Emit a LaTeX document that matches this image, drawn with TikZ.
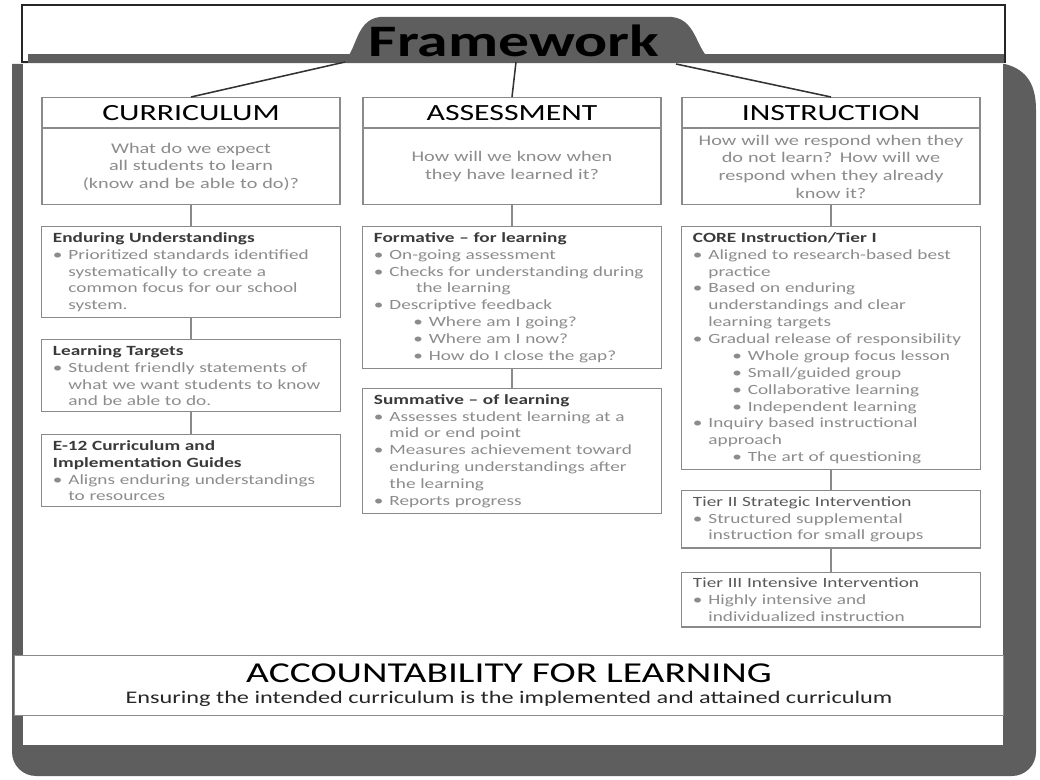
\documentclass[tikz,border=0pt]{standalone}
\usepackage{fontspec}
\setmainfont{Carlito}[FakeStretch=1.37]
\usetikzlibrary{positioning}

\definecolor{foldergray}{HTML}{5E5E5E}
\definecolor{boxline}{HTML}{8A8A8A}
\definecolor{bodytext}{HTML}{8C8C8C}
\definecolor{headtext}{HTML}{3A3A3A}

% bullets and hanging lines inside the boxes
\newcommand{\itm}{\makebox[1.1em][l]{\textbullet}}
\newcommand{\cnt}{\hspace*{1.1em}}
\newcommand{\sitm}{\hspace*{2.8em}\makebox[1.1em][l]{\textbullet}}
\newcommand{\hd}[1]{{\bfseries\color{headtext}#1}}

\begin{document}
\begin{tikzpicture}[
  x=0.025cm, y=-0.025cm,
  node distance=0.525cm,
  box/.style={draw=boxline, line width=0.8pt, fill=white, minimum width=7.45cm, inner sep=0pt},
  titlebox/.style={box, minimum height=0.75cm, font=\fontsize{16.5}{18}\selectfont, text=black},
  qbox/.style={box, minimum height=1.9cm, align=center, text width=7.2cm, font=\fontsize{10.5}{12.6}\selectfont, text=bodytext},
  itembox/.style={box, align=left, text width=6.9cm, inner xsep=8pt, inner ysep=4pt, font=\fontsize{10}{12}\selectfont, text=bodytext},
  link/.style={draw=boxline, line width=0.8pt},
  tabline/.style={draw=black!80, line width=1.1pt}
]
\useasboundingbox (0,0) rectangle (1040,780);

% --- folder behind everything ---
\fill[foldergray] (12,64) -- (1005,64) .. controls (1028,70) and (1036,86) .. (1036,110)
  [rounded corners=0.6cm] -- (1036,776) -- (12,776) [sharp corners] -- (12,700) -- cycle;
\fill[white] (23,64) rectangle (1003,745);

% --- label plate with the tab ---
\draw[black!85, line width=1.2pt, fill=white] (22,5) rectangle (1005,62);
\fill[foldergray] (28,54) rectangle (1004,63);
\fill[foldergray] (338,63) .. controls (358,60) and (352,20) .. (380,17) -- (672,17)
  .. controls (700,20) and (695,58) .. (718,63) -- cycle;
\node[font=\fontsize{32}{34}\selectfont\bfseries] (frame) at (514,41) {Framework};

\coordinate (tabL) at (345,62);
\coordinate (tabM) at (516,62);
\coordinate (tabR) at (676,64);

% --- column heads ---
\node[titlebox, anchor=north] (cur) at (191,97) {CURRICULUM};
\node[qbox, below=0pt of cur] (curq) {What do we expect\\all students to learn\\(know and be able to do)?};
\node[titlebox, anchor=north] (ass) at (512,97) {ASSESSMENT};
\node[qbox, below=0pt of ass] (assq) {How will we know when\\they have learned it?};
\node[titlebox, anchor=north] (ins) at (831,97) {INSTRUCTION};
\node[qbox, below=0pt of ins] (insq) {How will we respond when they\\do not learn? How will we\\respond when they already\\know it?};

% --- curriculum column ---
\node[itembox, below=of curq] (endu) {\hd{Enduring Understandings}\\
  \itm Prioritized standards identified\\
  \cnt systematically to create a\\
  \cnt common focus for our school\\
  \cnt system.};
\node[itembox, below=of endu] (lt) {\hd{Learning Targets}\\
  \itm Student friendly statements of\\
  \cnt what we want students to know\\
  \cnt and be able to do.};
\node[itembox, below=0.55cm of lt] (guide) {\hd{E-12 Curriculum and}\\
  \hd{Implementation Guides}\\
  \itm Aligns enduring understandings\\
  \cnt to resources};

% --- assessment column ---
\node[itembox, below=of assq] (form) {\hd{Formative -- for learning}\\
  \itm On-going assessment\\
  \itm Checks for understanding during\\
  \hspace*{3em}the learning\\
  \itm Descriptive feedback\\
  \sitm Where am I going?\\
  \sitm Where am I now?\\
  \sitm How do I close the gap?};
\node[itembox, below=0.475cm of form] (summ) {\hd{Summative -- of learning}\\
  \itm Assesses student learning at a\\
  \cnt mid or end point\\
  \itm Measures achievement toward\\
  \cnt enduring understandings after\\
  \cnt the learning\\
  \itm Reports progress};

% --- instruction column ---
\node[itembox, below=of insq] (core) {\hd{CORE Instruction/Tier I}\\
  \itm Aligned to research-based best\\
  \cnt practice\\
  \itm Based on enduring\\
  \cnt understandings and clear\\
  \cnt learning targets\\
  \itm Gradual release of responsibility\\
  \sitm Whole group focus lesson\\
  \sitm Small/guided group\\
  \sitm Collaborative learning\\
  \sitm Independent learning\\
  \itm Inquiry based instructional\\
  \cnt approach\\
  \sitm The art of questioning};
\node[itembox, below=0.5cm of core] (tier2) {{\color{black!65}Tier II Strategic Intervention}\\
  \itm Structured supplemental\\
  \cnt instruction for small groups};
\node[itembox, below=0.575cm of tier2] (tier3) {{\color{black!65}Tier III Intensive Intervention}\\
  \itm Highly intensive and\\
  \cnt individualized instruction};

% --- bottom banner ---
\node[box, minimum width=24.7cm, minimum height=1.5cm, align=center, anchor=north] (acct) at (509,655)
  {{\fontsize{20.5}{24}\selectfont ACCOUNTABILITY FOR LEARNING}\\[3pt]
   {\fontsize{12.6}{14}\selectfont\color{black!85}Ensuring the intended curriculum is the implemented and attained curriculum}};

% --- connectors ---
\draw[tabline] (tabL) -- (cur.north);
\draw[tabline] (tabM) -- (ass.north);
\draw[tabline] (tabR) -- (ins.north);
\draw[link] (curq) -- (endu);
\draw[link] (endu) -- (lt);
\draw[link] (lt) -- (guide);
\draw[link] (assq) -- (form);
\draw[link] (form) -- (summ);
\draw[link] (insq) -- (core);
\draw[link] (core) -- (tier2);
\draw[link] (tier2) -- (tier3);

\end{tikzpicture}
\end{document}
